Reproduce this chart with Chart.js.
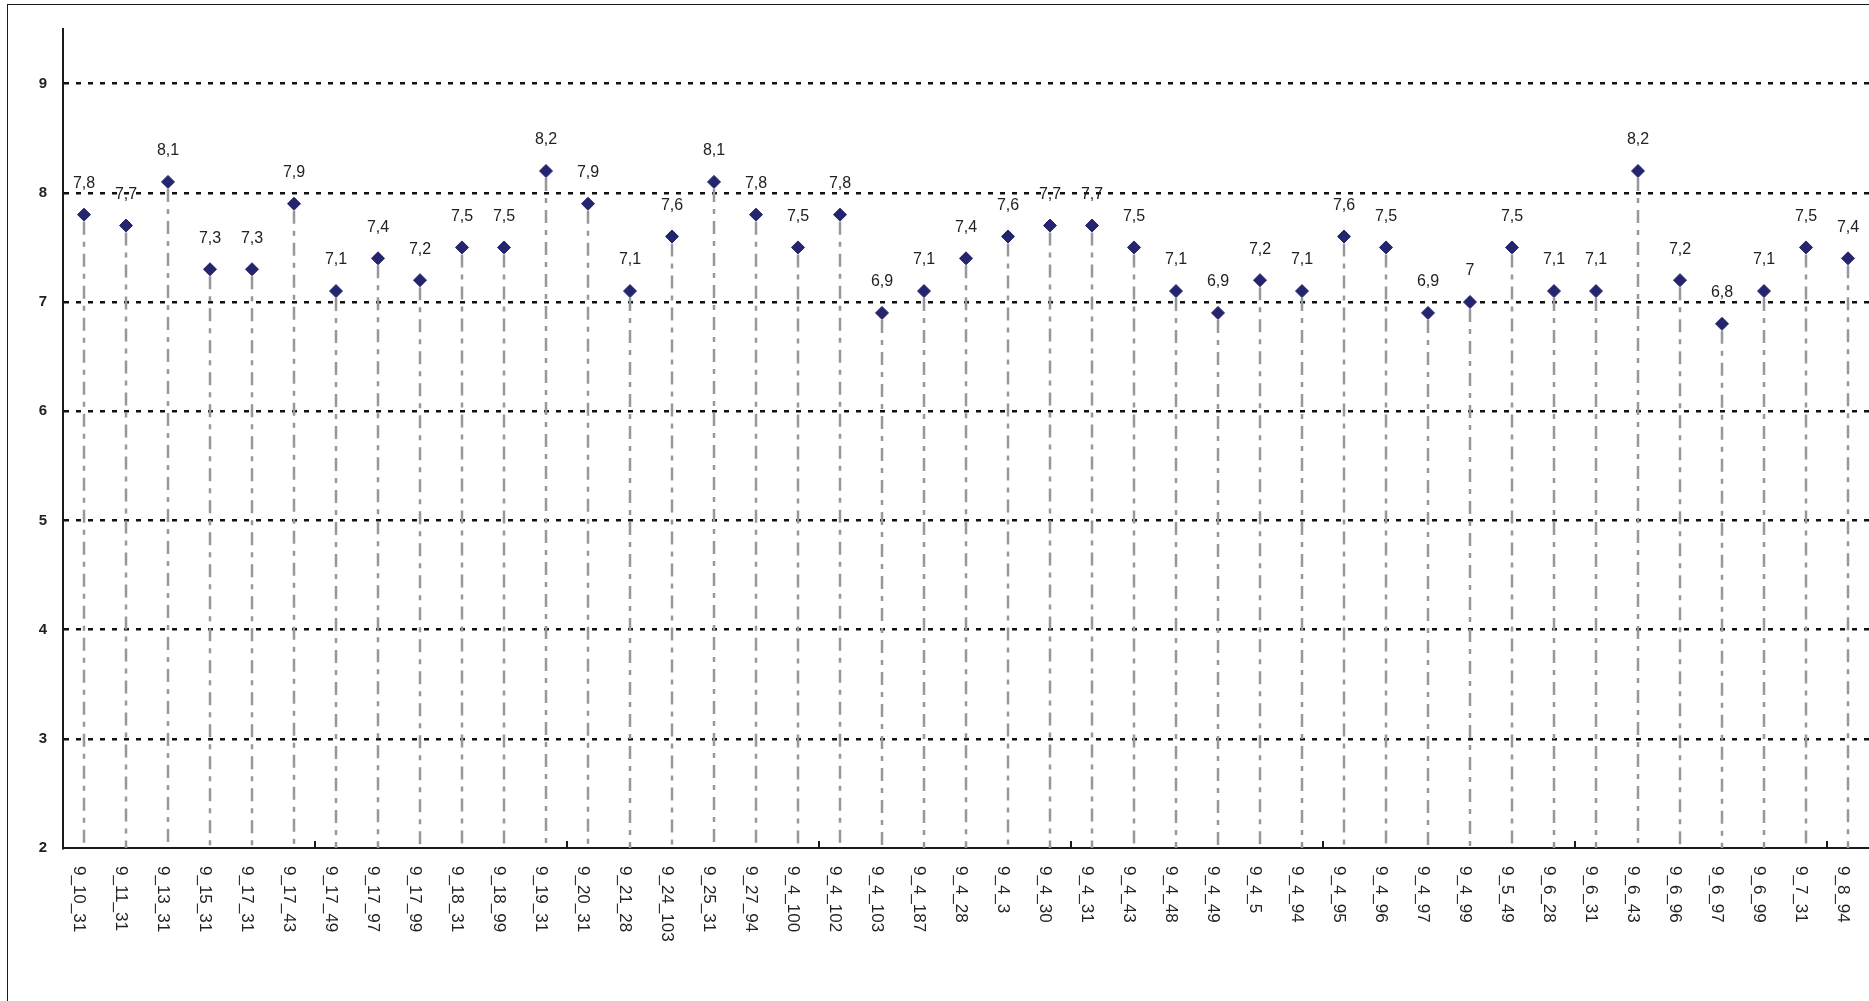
<!DOCTYPE html>
<html>
<head>
<meta charset="utf-8">
<script src="https://cdn.jsdelivr.net/npm/chart.js@4.4.0/dist/chart.umd.min.js"></script>
<style>
body { margin: 0; background: #fff; overflow: hidden; }
#scores { position: absolute; left: 0; top: 0; }
#frame { position: absolute; left: 7px; top: 4px; width: 1900px; height: 1100px; border: 1.5px solid #1a1a1a; pointer-events: none; }
</style>
</head>
<body>
<canvas id="scores" width="1869" height="1001"></canvas>
<div id="frame"></div>
<script>
var categories = ['9_10_31', '9_11_31', '9_13_31', '9_15_31', '9_17_31', '9_17_43', '9_17_49', '9_17_97', '9_17_99', '9_18_31',
    '9_18_99', '9_19_31', '9_20_31', '9_21_28', '9_24_103', '9_25_31', '9_27_94', '9_4_100', '9_4_102', '9_4_103',
    '9_4_187', '9_4_28', '9_4_3', '9_4_30', '9_4_31', '9_4_43', '9_4_48', '9_4_49', '9_4_5', '9_4_94',
    '9_4_95', '9_4_96', '9_4_97', '9_4_99', '9_5_49', '9_6_28', '9_6_31', '9_6_43', '9_6_96', '9_6_97',
    '9_6_99', '9_7_31', '9_8_94'];
var scores = [7.8, 7.7, 8.1, 7.3, 7.3, 7.9, 7.1, 7.4, 7.2, 7.5,
    7.5, 8.2, 7.9, 7.1, 7.6, 8.1, 7.8, 7.5, 7.8, 6.9,
    7.1, 7.4, 7.6, 7.7, 7.7, 7.5, 7.1, 6.9, 7.2, 7.1,
    7.6, 7.5, 6.9, 7, 7.5, 7.1, 7.1, 8.2, 7.2, 6.8,
    7.1, 7.5, 7.4];
var yTicks = [2, 3, 4, 5, 6, 7, 8, 9];
var yMin = 2;
var yMax = 9.5;
var tickMarkEvery = 6;

var markerColor = '#25256f';
var stemColor = '#97979c';
var textColor = '#222222';

// dash-dot drop lines from each marker to the x axis
var stems = {
    id: 'stems',
    beforeDatasetsDraw: function (chart) {
        var ctx = chart.ctx;
        var bottom = chart.chartArea.bottom;
        ctx.save();
        ctx.strokeStyle = stemColor;
        ctx.lineWidth = 2.5;
        ctx.setLineDash([13, 7, 5, 7]);
        chart.getDatasetMeta(0).data.forEach(function (pt) {
            ctx.beginPath();
            ctx.moveTo(Math.round(pt.x), pt.y + 7);
            ctx.lineTo(Math.round(pt.x), bottom);
            ctx.stroke();
        });
        ctx.restore();
    }
};

// value labels above points, rotated category labels, small tick marks
var labelsPlugin = {
    id: 'labelsPlugin',
    afterDatasetsDraw: function (chart) {
        var ctx = chart.ctx;
        ctx.save();
        ctx.font = '16px "Liberation Sans", Arial, sans-serif';
        ctx.fillStyle = textColor;
        ctx.textAlign = 'center';
        ctx.textBaseline = 'middle';
        chart.getDatasetMeta(0).data.forEach(function (pt, i) {
            ctx.fillText(String(scores[i]).replace('.', ','), pt.x, pt.y - 31);
        });
        ctx.restore();
    },
    afterDraw: function (chart) {
        var ctx = chart.ctx;
        var xs = chart.scales.x;
        var bottom = chart.chartArea.bottom;
        ctx.save();
        ctx.font = '17px "Liberation Sans", Arial, sans-serif';
        ctx.fillStyle = textColor;
        ctx.textAlign = 'left';
        ctx.textBaseline = 'alphabetic';
        categories.forEach(function (c, i) {
            var x = xs.getPixelForValue(i);
            ctx.save();
            ctx.translate(x - 10, bottom + 18);
            ctx.rotate(Math.PI / 2);
            ctx.fillText(c, 0, 0);
            ctx.restore();
        });
        ctx.strokeStyle = '#1a1a1a';
        ctx.lineWidth = 2;
        for (var i = tickMarkEvery; i < categories.length; i += tickMarkEvery) {
            var tx = Math.round((xs.getPixelForValue(i - 1) + xs.getPixelForValue(i)) / 2);
            ctx.beginPath();
            ctx.moveTo(tx, bottom);
            ctx.lineTo(tx, bottom - 7);
            ctx.stroke();
        }
        ctx.restore();
    }
};

var scoreChart = new Chart(document.getElementById('scores'), {
    type: 'line',
    data: {
        labels: categories,
        datasets: [{
            data: scores,
            showLine: false,
            pointStyle: 'rectRot',
            pointRadius: 6.5,
            pointBorderWidth: 1,
            pointBackgroundColor: markerColor,
            pointBorderColor: markerColor
        }]
    },
    options: {
        responsive: false,
        animation: false,
        devicePixelRatio: 1,
        layout: { autoPadding: false, padding: { top: 29, right: 0, left: 0, bottom: 0 } },
        plugins: {
            legend: { display: false },
            tooltip: { enabled: false }
        },
        scales: {
            x: {
                type: 'category',
                offset: true,
                grid: { display: false },
                border: { display: true, color: '#1a1a1a', width: 2 },
                ticks: { display: false },
                afterFit: function (scale) { scale.height = 153; }
            },
            y: {
                min: yMin,
                max: yMax,
                afterBuildTicks: function (scale) {
                    scale.ticks = yTicks.map(function (v) { return { value: v }; });
                },
                afterFit: function (scale) { scale.width = 63; },
                grid: {
                    drawTicks: false,
                    lineWidth: 2.5,
                    color: function (ctx) {
                        return ctx.tick && ctx.tick.value === yMin ? 'rgba(0,0,0,0)' : '#111111';
                    }
                },
                border: { display: true, color: '#1a1a1a', width: 2, dash: [5, 7] },
                ticks: {
                    padding: 16,
                    color: textColor,
                    font: { family: '"Liberation Sans", Arial, sans-serif', size: 15, weight: 'bold' }
                }
            }
        }
    },
    plugins: [stems, labelsPlugin]
});
</script>
</body>
</html>
